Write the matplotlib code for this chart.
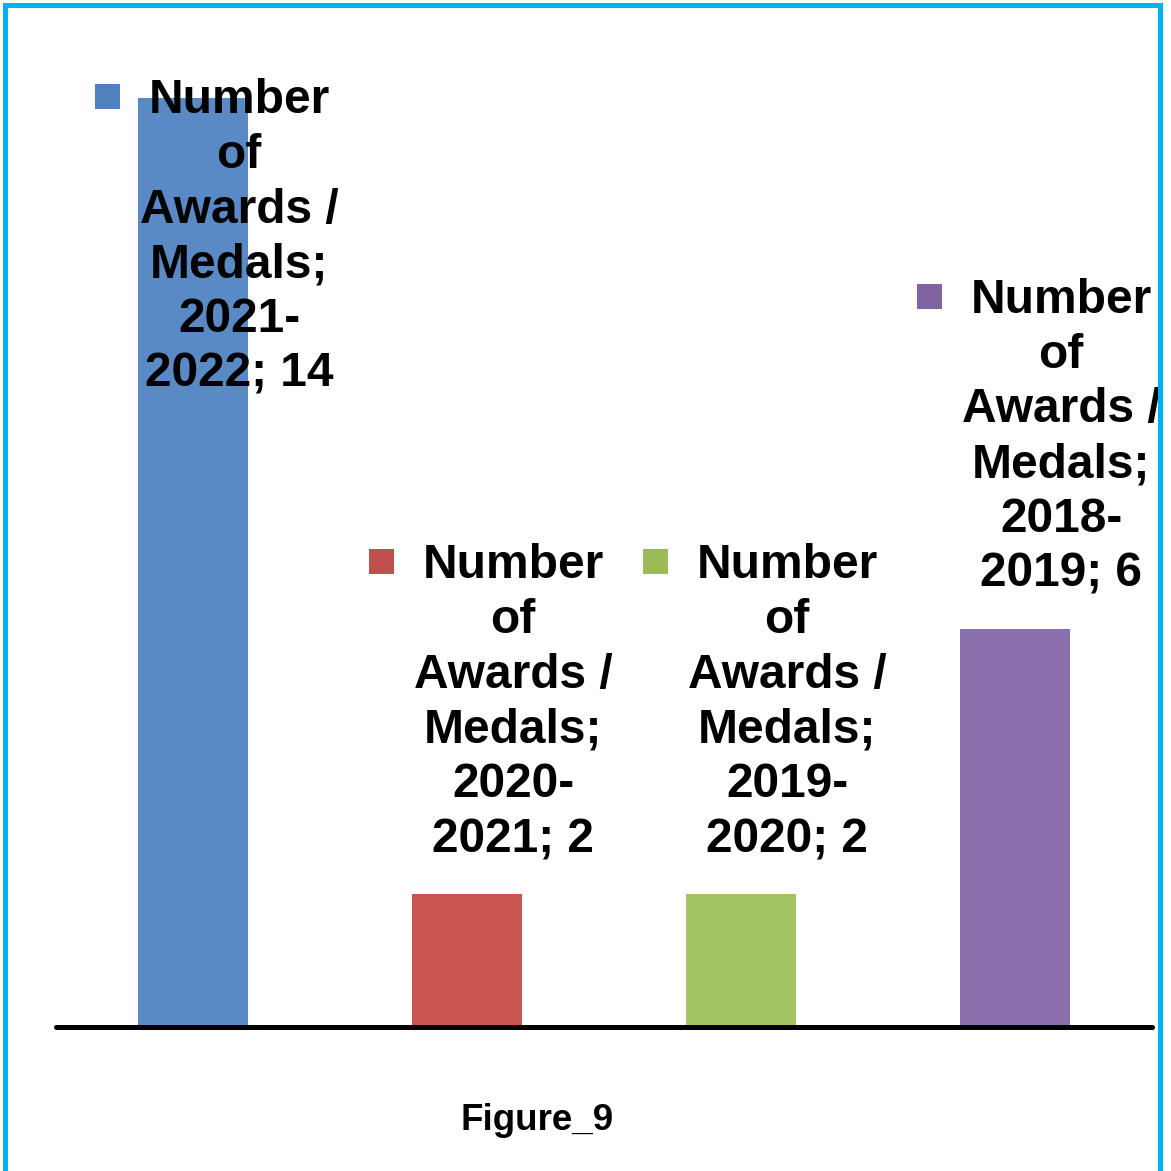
import matplotlib
matplotlib.use("Agg")
import matplotlib.pyplot as plt
from matplotlib.patches import Rectangle

series_name = "Number of Awards / Medals"
periods = ["2021-2022", "2020-2021", "2019-2020", "2018-2019"]
values = [14, 2, 2, 6]
bar_colors = ["#5A8AC6", "#C8564F", "#A4C363", "#8B6EAC"]
key_colors = ["#4F81BD", "#C0504D", "#9BBB59", "#8064A2"]
caption = "Figure_9"

W = H = 1171
fig = plt.figure(figsize=(W / 100, H / 100), dpi=100)
plt.rcParams["font.family"] = ["Liberation Sans", "DejaVu Sans"]

# plot area in pixels (from the top-left corner)
left_px, right_px, base_px, top_px = 56, 1152, 1027, 98
ax = fig.add_axes([left_px / W, 1 - base_px / H,
                   (right_px - left_px) / W, (base_px - top_px) / H])
ax.set_xlim(-0.5, len(values) - 0.5)
ax.set_ylim(0, max(values))
ax.axis("off")

x = list(range(len(values)))
ax.bar(x, values, width=0.4, color=bar_colors, edgecolor="none", zorder=2)

# baseline
ax.plot([-0.5, len(values) - 0.5], [0, 0], color="black", lw=3.6,
        solid_capstyle="round", clip_on=False, zorder=3)

fig.canvas.draw()
renderer = fig.canvas.get_renderer()

fs = 34.5
label_dx = 46      # pixel shift of label centre to the right of bar centre
label_gap = 32     # pixel gap between label and bar top
min_top = H - 78   # highest allowed label top (display coords)

for i, (p, v) in enumerate(zip(periods, values)):
    a, b = p.split("-")
    txt = f"Number\nof\nAwards /\nMedals;\n{a}-\n{b}; {v}"
    bx, by = ax.transData.transform((i, v))
    t = fig.text((bx + label_dx) / W, (by + label_gap) / H, txt,
                 ha="center", va="bottom", fontsize=fs, fontweight="bold",
                 linespacing=1.28, color="black", zorder=5)
    bb = t.get_window_extent(renderer)
    if bb.y1 > min_top:
        t.set_va("top")
        t.set_y(min_top / H)
        bb = t.get_window_extent(renderer)
    # legend key square next to the first line
    probe = fig.text(0, 0, "Number", fontsize=fs, fontweight="bold")
    wb = probe.get_window_extent(renderer)
    probe.remove()
    cx = (bb.x0 + bb.x1) / 2
    sq = 25
    sx = cx - wb.width / 2 - 28 - sq
    sy = bb.y1 - 31
    fig.patches.append(Rectangle((sx / W, sy / H), sq / W, sq / H,
                                 transform=fig.transFigure,
                                 facecolor=key_colors[i], edgecolor="none",
                                 zorder=4))

fig.text(537 / W, 1 - 1130 / H, caption, ha="center", va="baseline",
         fontsize=26.5, fontweight="bold")

# outer frame
fig.patches.append(Rectangle((5 / W, -20 / H), 1154.5 / W, (H - 5 + 20) / H,
                             transform=fig.transFigure, fill=False,
                             edgecolor="#00B0F0", lw=3.6, zorder=10))

fig.savefig("out.png", dpi=100, facecolor="white")
